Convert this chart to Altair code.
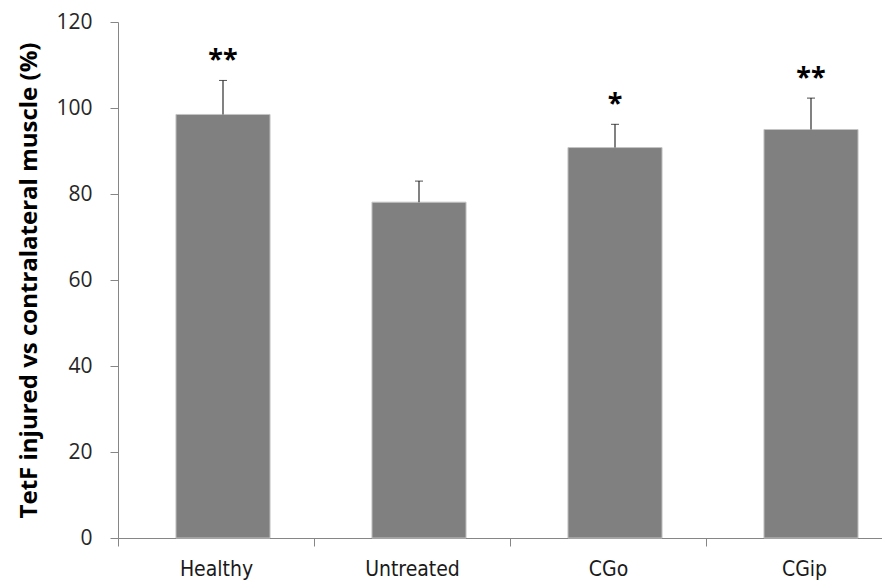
import altair as alt
import pandas as pd

groups = ["Healthy", "Untreated", "CGo", "CGip"]
means = [98.5, 78.1, 90.8, 95.0]
err_tops = [106.4, 83.0, 96.2, 102.3]
stars = ["**", "", "*", "**"]

df = pd.DataFrame({"group": groups, "mean": means, "top": err_tops, "star": stars})

x = alt.X("group:N", sort=groups, title=None,
          scale=alt.Scale(paddingInner=0, paddingOuter=0, range=[0, 784]),
          axis=alt.Axis(labelAngle=0, labelFont="DejaVu Sans Condensed", labelFontSize=21,
                        labelColor="#1a1a1a", labelPadding=12, tickBand="extent",
                        tickSize=8, domainColor="#868686", tickColor="#868686",
                        labelBaseline="top"))
y = alt.Y("mean:Q", title="TetF injured vs contralateral muscle  (%)",
          scale=alt.Scale(domain=[0, 120], nice=False),
          axis=alt.Axis(values=[0, 20, 40, 60, 80, 100, 120], grid=False,
                        labelFont="Open Sans", labelFontSize=21, labelColor="#262626",
                        labelPadding=18, tickSize=8, domainColor="#868686", tickColor="#868686",
                        titleFont="Open Sans", titleFontSize=24, titleFontWeight="bold",
                        titleColor="#000000", titlePadding=14))

base = alt.Chart(df)
bars = base.mark_bar(color="#808080", stroke="#c4c4c4", strokeWidth=1,
                     width=alt.RelativeBandSize(0.48), xOffset=7).encode(x=x, y=y)
rules = base.mark_rule(color="#1a1a1a", strokeWidth=1.1, xOffset=7).encode(x=x, y="mean:Q", y2="top:Q")
caps = base.mark_tick(color="#1a1a1a", thickness=1.1, size=8, xOffset=7).encode(x=x, y="top:Q")
text = base.mark_text(fontSize=27, font="Noto Sans", fontWeight="bold", baseline="alphabetic",
                      dy=-11, xOffset=7, color="#000000").encode(x=x, y="top:Q", text="star:N")

chart = (bars + rules + caps + text).properties(
    width=764, height=516,
    autosize=alt.AutoSizeParams(type="none"),
    padding={"left": 110, "top": 14, "right": 0, "bottom": 48},
).configure_view(stroke=None)

chart.save("out.html", embed_options={"renderer": "svg", "actions": False})
